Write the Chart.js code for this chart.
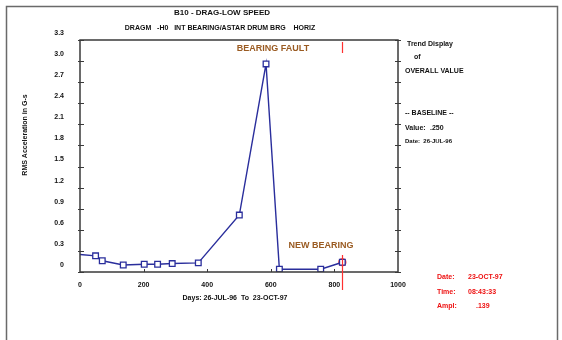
<!DOCTYPE html>
<html>
<head>
<meta charset="utf-8">
<script src="https://cdn.jsdelivr.net/npm/chart.js@4.4.0/dist/chart.umd.min.js"></script>
<style>
  html, body { margin: 0; padding: 0; background: #fff; }
  #wrap { width: 562px; height: 340px; }
</style>
</head>
<body>
<div id="wrap"><canvas id="trendChart" width="562" height="340"></canvas></div>
<script>
// overall value readings: days since 26-JUL-96 vs RMS acceleration (G-s)
let days = [0, 49, 70, 136, 202, 244, 290, 372, 501, 585, 627, 757, 825];
let ampl = [0.25, 0.23, 0.16, 0.10, 0.11, 0.11, 0.12, 0.13, 0.81, 2.96, 0.04, 0.04, 0.139];
let yTicks = [0, 0.3, 0.6, 0.9, 1.2, 1.5, 1.8, 2.1, 2.4, 2.7, 3.0, 3.3];
let xTicks = [0, 200, 400, 600, 800, 1000];

const FONT = '"Liberation Sans", Arial, sans-serif';
const lastIdx = days.length - 1;

function txt(ctx, s, x, y, size, color, align) {
  ctx.font = 'bold ' + size + 'px ' + FONT;
  ctx.fillStyle = color;
  ctx.textAlign = align || 'left';
  ctx.textBaseline = 'middle';
  ctx.fillText(s, x, y);
}

const trendDecor = {
  id: 'trendDecor',
  afterDraw(chart) {
    const ctx = chart.ctx;
    const a = chart.chartArea;
    const xs = chart.scales.x, ys = chart.scales.y;
    ctx.save();

    // page frame
    ctx.strokeStyle = '#6a6a6a';
    ctx.lineWidth = 1.5;
    ctx.strokeRect(6.5, 6.5, 551, 345);

    // plot frame
    ctx.strokeStyle = '#3a3a3a';
    ctx.lineWidth = 1.5;
    ctx.strokeRect(a.left, a.top, a.right - a.left, a.bottom - a.top);

    // tick marks on both vertical axes and the bottom axis
    ctx.lineWidth = 1;
    yTicks.forEach(v => {
      const py = Math.round(ys.getPixelForValue(v)) + 0.5;
      ctx.beginPath();
      ctx.moveTo(a.left - 2, py); ctx.lineTo(a.left + 4, py);
      ctx.moveTo(a.right - 3, py); ctx.lineTo(a.right + 3, py);
      ctx.stroke();
    });
    xTicks.slice(1, -1).forEach(v => {
      const px = Math.round(xs.getPixelForValue(v)) + 0.5;
      ctx.beginPath();
      ctx.moveTo(px, a.bottom); ctx.lineTo(px, a.bottom - 3);
      ctx.stroke();
    });

    // current reading marker
    const mx = Math.round(xs.getPixelForValue(days[lastIdx])) + 0.5;
    ctx.strokeStyle = '#ff3030';
    ctx.lineWidth = 1.2;
    ctx.beginPath();
    ctx.moveTo(mx, a.top + 2); ctx.lineTo(mx, a.top + 13);
    ctx.moveTo(mx, a.bottom - 17); ctx.lineTo(mx, a.bottom + 18);
    ctx.stroke();

    // titles
    txt(ctx, 'B10 - DRAG-LOW SPEED', 222, 13, 8, '#111', 'center');
    txt(ctx, 'DRAGM   -H0   INT BEARING/ASTAR DRUM BRG    HORIZ', 220, 28, 7, '#111', 'center');

    ctx.save();
    ctx.translate(25, 135);
    ctx.rotate(-Math.PI / 2);
    txt(ctx, 'RMS Acceleration in G-s', 0, 0, 7, '#111', 'center');
    ctx.restore();

    txt(ctx, 'Days: 26-JUL-96  To  23-OCT-97', 235, 298, 7, '#111', 'center');

    // event notes
    txt(ctx, 'BEARING FAULT', 273, 49, 9, '#9a5b22', 'center');
    txt(ctx, 'NEW BEARING', 321, 246, 9, '#9a5b22', 'center');

    // trend legend
    txt(ctx, 'Trend Display', 407, 44, 7, '#111');
    txt(ctx, 'of', 414, 57, 7, '#111');
    txt(ctx, 'OVERALL VALUE', 405, 71, 7, '#111');
    txt(ctx, '-- BASELINE --', 405, 113, 7, '#111');
    txt(ctx, 'Value:', 405, 128, 7, '#111');
    txt(ctx, ampl[0].toFixed(3).replace(/^0/, ''), 430, 128, 7, '#111');
    txt(ctx, 'Date:  26-JUL-96', 405, 141, 6, '#111');

    // current reading details
    txt(ctx, 'Date:', 437, 277, 7, '#ee1111');
    txt(ctx, '23-OCT-97', 468, 277, 7, '#ee1111');
    txt(ctx, 'Time:', 437, 292, 7, '#ee1111');
    txt(ctx, '08:43:33', 468, 292, 7, '#ee1111');
    txt(ctx, 'Ampl:', 437, 306, 7, '#ee1111');
    txt(ctx, ampl[lastIdx].toFixed(3).replace(/^0/, ''), 476, 306, 7, '#ee1111');

    ctx.restore();
  }
};

let points = days.map((d, i) => ({ x: d, y: ampl[i] }));

let ctx1 = document.getElementById('trendChart').getContext('2d');

let chart1 = new Chart(ctx1, {
  type: 'scatter',
  data: {
    datasets: [
      {
        data: points,
        showLine: true,
        borderColor: '#2a2e9c',
        borderWidth: 1.4,
        pointStyle: 'rect',
        pointRadius: c => (c.dataIndex === 0 ? 0 : 4),
        pointBackgroundColor: '#ffffff',
        pointBorderColor: '#2a2e9c',
        pointBorderWidth: 1.3,
        tension: 0
      },
      {
        data: [points[lastIdx]],
        pointStyle: 'circle',
        pointRadius: 3.5,
        pointBackgroundColor: 'rgba(0,0,0,0)',
        pointBorderColor: '#ff2a2a',
        pointBorderWidth: 1.2
      }
    ]
  },
  options: {
    responsive: false,
    animation: false,
    layout: { padding: { left: 20, top: 40, right: 164, bottom: 0 } },
    plugins: {
      legend: { display: false },
      tooltip: { enabled: false }
    },
    scales: {
      x: {
        type: 'linear',
        min: 0,
        max: 1000,
        afterFit: s => { s.height = 68; },
        afterBuildTicks: s => { s.ticks = xTicks.map(v => ({ value: v })); },
        grid: { display: false, drawTicks: false },
        border: { display: false },
        ticks: {
          padding: 9,
          color: '#111',
          maxRotation: 0,
          font: { family: FONT, size: 7, weight: 'bold' },
          callback: v => String(v)
        }
      },
      y: {
        type: 'linear',
        min: 0,
        max: 3.3,
        afterFit: s => { s.width = 60; },
        afterBuildTicks: s => { s.ticks = yTicks.map(v => ({ value: v })); },
        grid: { display: false, drawTicks: false },
        border: { display: false },
        ticks: {
          padding: 16,
          labelOffset: -7,
          color: '#111',
          font: { family: FONT, size: 7, weight: 'bold' },
          callback: v => (v === 0 ? '0' : v.toFixed(1))
        }
      }
    }
  },
  plugins: [trendDecor]
});
</script>
</body>
</html>
